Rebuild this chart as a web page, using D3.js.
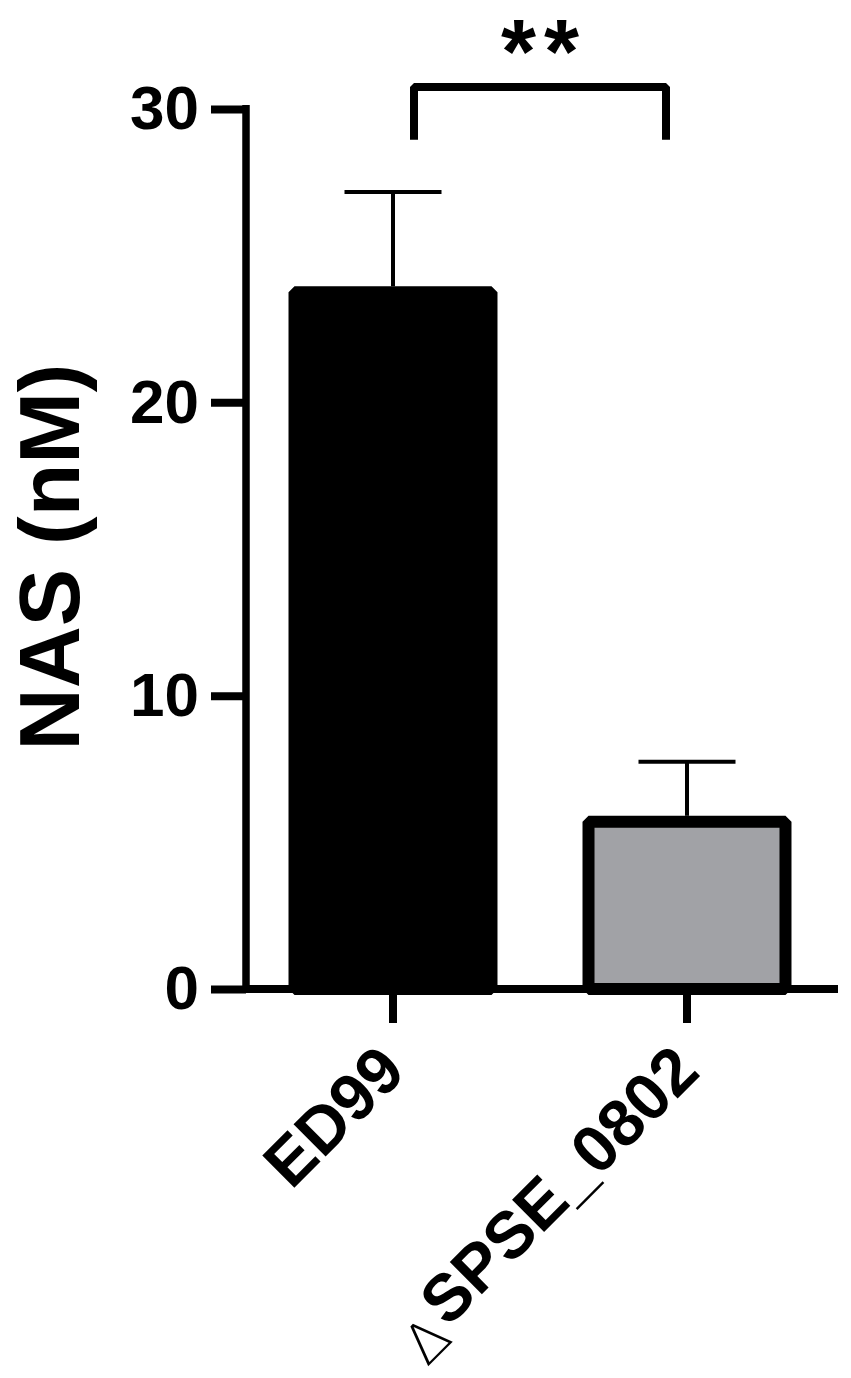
<!DOCTYPE html>
<html>
<head>
<meta charset="utf-8">
<script src="https://cdn.jsdelivr.net/npm/d3@7"></script>
<style>
  html, body { margin: 0; padding: 0; background: #fff; }
  svg { display: block; }
  text { font-family: "Liberation Sans", Arial, sans-serif; }
</style>
</head>
<body>
<div id="chart"></div>
<script>
// ---- data ----
const categories = ["ED99", "SPSE_0802"];
const labelPrefix = ["", "\u0394"];
const means = [23.75, 5.7];
const errors = [3.42, 2.05];
const barColors = ["#000000", "#a1a2a6"];
const yTicks = [0, 10, 20, 30];
const yLabel = "NAS (nM)";
const sigText = "**";
const bracketTop = 30.75;
const bracketLegBottom = 28.95;

// ---- layout ----
const W = 851, H = 1378;
const svg = d3.select("#chart").append("svg").attr("width", W).attr("height", H);

const y = d3.scaleLinear().domain([0, 30]).range([989, 109]);
const x = d3.scaleBand().domain(categories).range([246, 834]).paddingInner(0.33).paddingOuter(0.165);

// bars (open bottom path with bevel joins)
const barW = x.bandwidth();
svg.append("g").selectAll("path").data(categories).join("path")
  .attr("d", (c, i) => {
    const x0 = x(c), x1 = x(c) + barW, yb = y(0), yt = y(means[i]);
    return `M${x0},${yb}V${yt}H${x1}V${yb}Z`;
  })
  .attr("fill", (c, i) => barColors[i])
  .attr("stroke", "#000")
  .attr("stroke-width", 12)
  .attr("stroke-linejoin", "bevel");

// error bars
const capW = 97;
const eb = svg.append("g").attr("stroke", "#000").attr("stroke-width", 4);
categories.forEach((c, i) => {
  const cx = x(c) + barW / 2;
  eb.append("line").attr("x1", cx).attr("x2", cx)
    .attr("y1", y(means[i]) - 6).attr("y2", y(means[i] + errors[i]));
  eb.append("line").attr("x1", cx - capW / 2).attr("x2", cx + capW / 2)
    .attr("y1", y(means[i] + errors[i])).attr("y2", y(means[i] + errors[i]));
});

// y axis
const yAxis = d3.axisLeft(y).tickValues(yTicks).tickSize(35).tickSizeOuter(0).tickPadding(12);
const gy = svg.append("g").attr("transform", "translate(246,0)").call(yAxis);
gy.select(".domain").attr("stroke-width", 7.5).attr("d", `M0,${y(30) - 4}V${y(0) + 4}`);
gy.selectAll(".tick line").attr("stroke-width", 8);
gy.selectAll(".tick text").attr("font-size", 62).attr("font-weight", "bold").attr("fill", "#000").attr("dy", "0.32em");

// x axis
const gx = svg.append("g").attr("transform", `translate(0,${y(0)})`)
  .call(d3.axisBottom(x).tickSize(34).tickSizeOuter(0).tickFormat(() => ""));
gx.select(".domain").attr("stroke-width", 8).attr("d", `M246,0H838`);
gx.selectAll(".tick line").attr("stroke-width", 8);

// x labels (rotated)
const xl = svg.append("g");
categories.forEach((c, i) => {
  const ax = x(c) + barW / 2 + 15, ay = 1074;
  const t = xl.append("text")
    .attr("transform", `translate(${ax},${ay}) rotate(-45)`)
    .attr("text-anchor", "end")
    .attr("font-size", 66)
    .attr("font-weight", "bold")
    .attr("fill", "#000");
  if (labelPrefix[i]) {
    t.append("tspan").attr("font-weight", "200").attr("font-family", "'DejaVu Sans', sans-serif")
      .attr("font-size", 56).attr("dy", 13).text(labelPrefix[i]);
    t.append("tspan").attr("dy", -13).attr("dx", 4).text(c);
  } else {
    t.append("tspan").text(c);
  }
});

// y label
svg.append("text")
  .attr("transform", `translate(79,557) rotate(-90)`)
  .attr("text-anchor", "middle")
  .attr("font-size", 86)
  .attr("font-weight", "bold")
  .attr("fill", "#000")
  .text(yLabel);

// significance bracket
const bx0 = x(categories[0]) + barW / 2 + 21;
const bx1 = x(categories[1]) + barW / 2 - 21;
svg.append("path")
  .attr("d", `M${bx0},${y(bracketLegBottom)}V${y(bracketTop)}H${bx1}V${y(bracketLegBottom)}`)
  .attr("fill", "none").attr("stroke", "#000").attr("stroke-width", 8).attr("stroke-linejoin", "bevel");
svg.append("text")
  .attr("x", (bx0 + bx1) / 2 + 4).attr("y", 83)
  .attr("text-anchor", "middle")
  .attr("letter-spacing", 8)
  .attr("font-size", 90).attr("font-weight", "bold").attr("fill", "#000")
  .text(sigText);
</script>
</body>
</html>
